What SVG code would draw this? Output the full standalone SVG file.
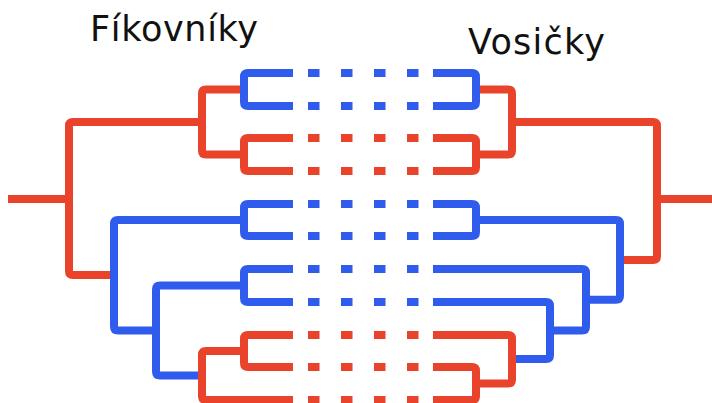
<svg xmlns="http://www.w3.org/2000/svg" width="712" height="403" viewBox="0 0 712 403">
<style>
  .ln{fill:none;stroke-width:8;stroke-linejoin:round;stroke-linecap:butt}
  .r{stroke:#E9432B}
  .b{stroke:#2F5CEC}
  .dash{stroke-dasharray:11.5 21.5}
  .t{font-family:"DejaVu Sans","Liberation Sans",sans-serif;font-size:35px;fill:#111}
</style>
<rect width="712" height="403" fill="#fff"/>
<g id="titles">
  <text id="t-left" class="t" x="90" y="41" textLength="168" lengthAdjust="spacing">Fíkovníky</text>
  <text id="t-right" class="t" x="468" y="54" textLength="137" lengthAdjust="spacing">Vosičky</text>
</g>
<g id="connectors">
  <!-- left tree -->
  <path id="L-root-stem" class="ln r" d="M8 199 H69"/>
  <path id="L-root" class="ln r" d="M202 122 H73 Q69 122 69 126 V271 Q69 275 73 275 H114"/>
  <path id="L-n1" class="ln r" d="M244 89.5 H206 Q202 89.5 202 93.5 V150.5 Q202 154.5 206 154.5 H244"/>
  <path id="L-b1" class="ln b" d="M293 73 H248 Q244 73 244 77 V102 Q244 106 248 106 H293"/>
  <path id="L-b2" class="ln r" d="M293 138 H248 Q244 138 244 142 V167 Q244 171 248 171 H293"/>
  <path id="L-n3" class="ln b" d="M244 220 H118 Q114 220 114 224 V326.5 Q114 330.5 118 330.5 H156"/>
  <path id="L-b3" class="ln b" d="M293 204 H248 Q244 204 244 208 V232 Q244 236 248 236 H293"/>
  <path id="L-n4" class="ln b" d="M244 285.5 H160 Q156 285.5 156 289.5 V371.5 Q156 375.5 160 375.5 H202"/>
  <path id="L-b4" class="ln b" d="M293 269 H248 Q244 269 244 273 V298 Q244 302 248 302 H293"/>
  <path id="L-n5" class="ln r" d="M244 351 H206 Q202 351 202 355 V396 Q202 400 206 400 H293"/>
  <path id="L-b5" class="ln r" d="M293 335 H248 Q244 335 244 339 V363 Q244 367 248 367 H293"/>
  <!-- right tree -->
  <path id="R-root-stem" class="ln r" d="M657 199 H712"/>
  <path id="R-root" class="ln r" d="M512 122 H653 Q657 122 657 126 V256 Q657 260 653 260 H620"/>
  <path id="R-n1" class="ln r" d="M476 89.5 H508 Q512 89.5 512 93.5 V150.5 Q512 154.5 508 154.5 H476"/>
  <path id="R-b1" class="ln b" d="M433 73 H472 Q476 73 476 77 V102 Q476 106 472 106 H433"/>
  <path id="R-b2" class="ln r" d="M433 138 H472 Q476 138 476 142 V167 Q476 171 472 171 H433"/>
  <path id="R-n2" class="ln b" d="M476 220 H616 Q620 220 620 224 V295.75 Q620 299.75 616 299.75 H586"/>
  <path id="R-b3" class="ln b" d="M433 204 H472 Q476 204 476 208 V232 Q476 236 472 236 H433"/>
  <path id="R-n3" class="ln b" d="M433 269 H582 Q586 269 586 273 V326.5 Q586 330.5 582 330.5 H550"/>
  <path id="R-n4" class="ln b" d="M433 302 H546 Q550 302 550 306 V355 Q550 359 546 359 H512"/>
  <path id="R-n5" class="ln r" d="M433 335 H508 Q512 335 512 339 V379.5 Q512 383.5 508 383.5 H476"/>
  <path id="R-b5" class="ln r" d="M433 367 H472 Q476 367 476 371 V396 Q476 400 472 400 H433"/>
</g>
<g id="leaves">
  <path id="leaf0" class="ln b dash" d="M308 73 H419"/>
  <path id="leaf1" class="ln b dash" d="M308 106 H419"/>
  <path id="leaf2" class="ln r dash" d="M308 138 H419"/>
  <path id="leaf3" class="ln r dash" d="M308 171 H419"/>
  <path id="leaf4" class="ln b dash" d="M308 204 H419"/>
  <path id="leaf5" class="ln b dash" d="M308 236 H419"/>
  <path id="leaf6" class="ln b dash" d="M308 269 H419"/>
  <path id="leaf7" class="ln b dash" d="M308 302 H419"/>
  <path id="leaf8" class="ln r dash" d="M308 335 H419"/>
  <path id="leaf9" class="ln r dash" d="M308 367 H419"/>
  <path id="leaf10" class="ln r dash" d="M308 400 H419"/>
</g>
</svg>
